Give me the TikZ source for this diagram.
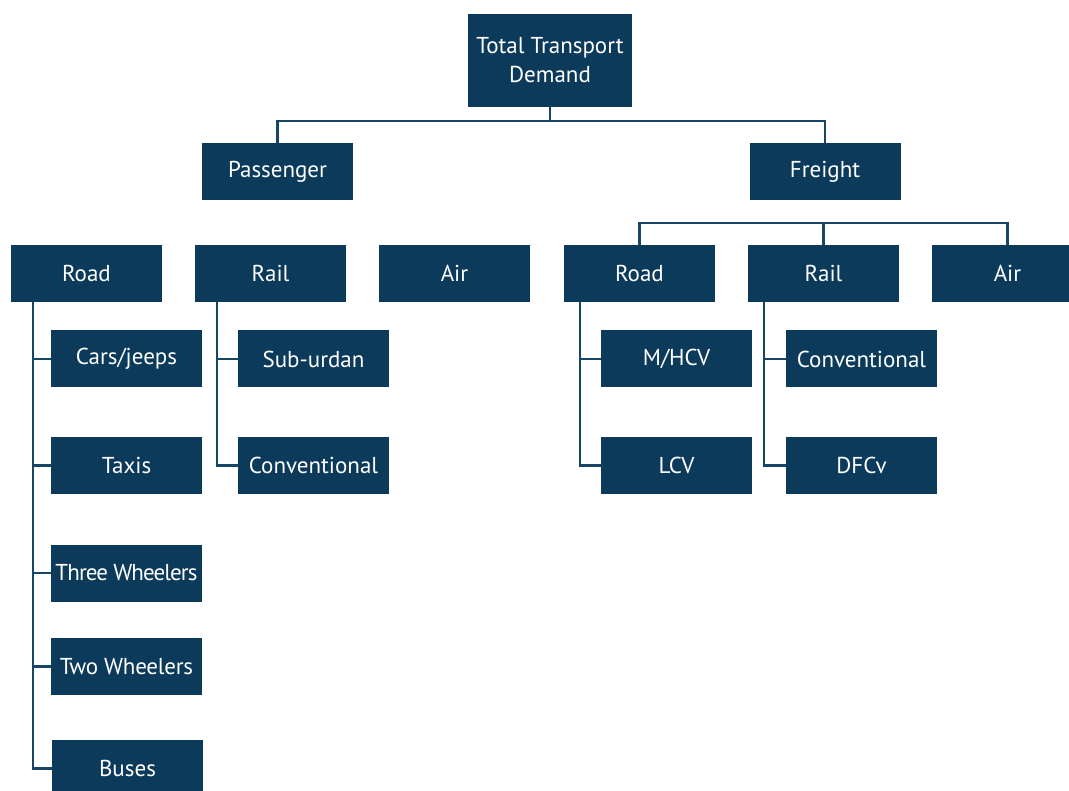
\documentclass[tikz,border=0pt]{standalone}
\usepackage{fontspec}
\setmainfont{PT Sans}
\definecolor{navy}{HTML}{0C3A5B}
\definecolor{wire}{HTML}{174565}
\tikzset{
  box/.style={fill=navy, text=white, minimum width=151pt, minimum height=57pt, inner sep=0pt,
    font=\fontsize{23}{29}\selectfont},
  wirel/.style={draw=wire, line width=2.3pt}
}
\begin{document}
\begin{tikzpicture}[x=1pt,y=-1pt]
\useasboundingbox (0,0) rectangle (1069,791);
% nodes
\node[box, minimum width=164pt, minimum height=93pt, align=center] (total) at (550,60.5) {Total Transport\\Demand};
\node[box] (pass) at (277.5,171.5) {Passenger};
\node[box] (frt) at (825,171.5) {Freight};
\node[box] (road1) at (86.5,273.5) {Road};
\node[box] (rail1) at (270.5,273.5) {Rail};
\node[box] (air1) at (454.5,273.5) {Air};
\node[box] (road2) at (639.5,273.5) {Road};
\node[box] (rail2) at (823.5,273.5) {Rail};
\node[box] (air2) at (1007.5,273.5) {Air};
\node[box] (cars) at (126.5,359) {Cars/jeeps};
\node[box] (taxis) at (126.5,465.5) {Taxis};
\node[box] (three) at (126.5,573) {\addfontfeature{LetterSpace=-4}Three Wheelers};
\node[box] (two) at (126.5,666.5) {\addfontfeature{LetterSpace=-1}Two Wheelers};
\node[box] (buses) at (127.5,768.5) {Buses};
\node[box] (sub) at (313.5,359) {Sub-urdan};
\node[box] (conv1) at (313.5,465.5) {Conventional};
\node[box] (mhcv) at (676.5,359) {M/HCV};
\node[box] (lcv) at (676.5,465.5) {LCV};
\node[box] (conv2) at (861.5,359) {Conventional};
\node[box] (dfcv) at (861.5,465.5) {DFCv};
% top connectors
\coordinate (tb) at (550,121);
\draw[wirel] (total.south) -- (tb) -| (pass.north);
\draw[wirel] (tb) -| (frt.north);
% freight bar
\coordinate (fb) at (823.5,223);
\draw[wirel] (road2.north) |- (fb) -| (air2.north);
\draw[wirel] (fb) -- (rail2.north);
% passenger road spine
\coordinate (rs) at ([xshift=22pt]road1.south west);
\draw[wirel] (rs) |- (buses.west);
\foreach \n in {cars,taxis,three,two} \draw[wirel] (rs|-\n.west) -- (\n.west);
% passenger rail spine
\coordinate (ls) at ([xshift=22pt]rail1.south west);
\draw[wirel] (ls) |- (conv1.west);
\draw[wirel] (ls|-sub.west) -- (sub.west);
% freight road spine
\coordinate (fs) at ([xshift=16pt]road2.south west);
\draw[wirel] (fs) |- (lcv.west);
\draw[wirel] (fs|-mhcv.west) -- (mhcv.west);
% freight rail spine
\coordinate (gs) at ([xshift=16pt]rail2.south west);
\draw[wirel] (gs) |- (dfcv.west);
\draw[wirel] (gs|-conv2.west) -- (conv2.west);
\end{tikzpicture}
\end{document}
